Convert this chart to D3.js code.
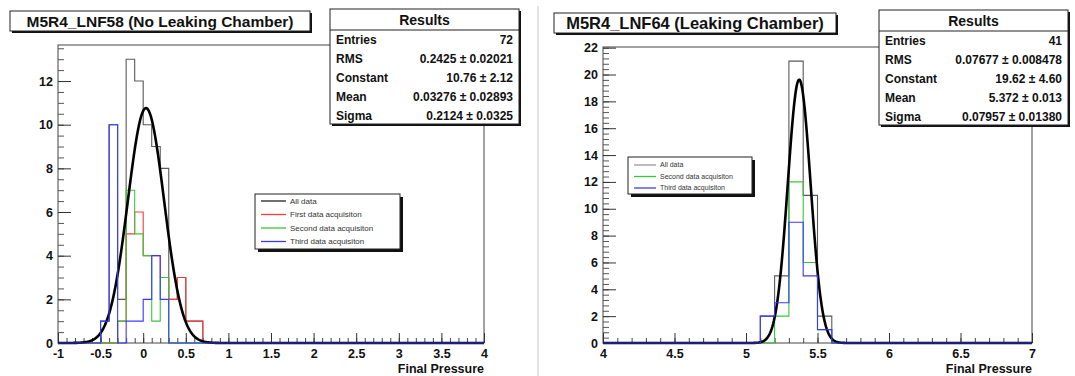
<!DOCTYPE html>
<html>
<head>
<meta charset="utf-8">
<script src="https://cdn.jsdelivr.net/npm/d3@7"></script>
<style>
    body { margin: 0; background: #fff; }
    text { font-family: "Liberation Sans", Arial, Helvetica, sans-serif; }
</style>
</head>
<body>
<div id="chart"></div>
<script>
// Histogram bin width (both pads)
var binWidth = 0.1;

// Left pad: M5R4_LNF58 (No Leaking Chamber) - lower edge of each filled bin
var leftBinLow = [-0.5, -0.4, -0.3, -0.2, -0.1, 0.0, 0.1, 0.2, 0.3, 0.4, 0.5, 0.6];
var leftAllData = [1, 10, 2, 13, 12, 10, 9, 8, 2, 3, 1, 1];
var leftFirst = [0, 0, 1, 5, 6, 4, 4, 3, 2, 3, 1, 1];
var leftSecond = [0, 0, 1, 7, 5, 4, 1, 3, 0, 0, 0, 0];
var leftThird = [1, 10, 0, 1, 1, 2, 4, 2, 0, 0, 0, 0];
var leftFit = [10.76, 0.03276, 0.2124]; // constant, mean, sigma
var leftStats = [
    ["Entries", "72"],
    ["RMS", "0.2425 \u00b1 0.02021"],
    ["Constant", "10.76 \u00b1 2.12"],
    ["Mean", "0.03276 \u00b1 0.02893"],
    ["Sigma", "0.2124 \u00b1 0.0325"]
];
var leftLegend = ["All data", "First data acquisiton", "Second data acquisiton", "Third data acquisiton"];

// Right pad: M5R4_LNF64 (Leaking Chamber)
var rightBinLow = [5.1, 5.2, 5.3, 5.4, 5.5];
var rightAllData = [2, 5, 21, 11, 2];
var rightSecond = [0, 2, 12, 6, 1];
var rightThird = [2, 3, 9, 5, 1];
var rightFit = [19.62, 5.372, 0.07957];
var rightStats = [
    ["Entries", "41"],
    ["RMS", "0.07677 \u00b1 0.008478"],
    ["Constant", "19.62 \u00b1 4.60"],
    ["Mean", "5.372 \u00b1 0.013"],
    ["Sigma", "0.07957 \u00b1 0.01380"]
];
var rightLegend = ["All data", "Second data acquisiton", "Third data acquisiton"];

// Tick labels
var leftXTicks = [-1, -0.5, 0, 0.5, 1, 1.5, 2, 2.5, 3, 3.5, 4];
var leftYTicks = [0, 2, 4, 6, 8, 10, 12];
var rightXTicks = [4, 4.5, 5, 5.5, 6, 6.5, 7];
var rightYTicks = [0, 2, 4, 6, 8, 10, 12, 14, 16, 18, 20, 22];

var colors = { all: "#5a5a5a", first: "#ff3b3b", second: "#37c837", third: "#3a3aff" };

var svg = d3.select("#chart").append("svg")
    .attr("width", 1075)
    .attr("height", 376)
    .style("display", "block");

svg.append("rect").attr("width", 1075).attr("height", 376).attr("fill", "#fff");

// Divider between the two canvases
svg.append("line")
    .attr("x1", 538).attr("x2", 538)
    .attr("y1", 6).attr("y2", 376)
    .style("stroke", "#c8c8c8")
    .style("stroke-width", 1);

function boxWithShadow(g, x0, y0, x1, y1, shadow) {
    g.append("rect")
        .attr("x", x0 + shadow).attr("y", y0 + shadow)
        .attr("width", x1 - x0).attr("height", y1 - y0)
        .attr("fill", "#111");
    g.append("rect")
        .attr("x", x0).attr("y", y0)
        .attr("width", x1 - x0).attr("height", y1 - y0)
        .attr("fill", "#fff")
        .style("stroke", "#222")
        .style("stroke-width", 1);
}

function drawPanel(p) {
    var g = svg.append("g");

    var x = d3.scaleLinear().domain(p.xDomain).range([p.left, p.right]);
    var y = d3.scaleLinear().domain([0, p.yMax]).range([p.bottom, p.top]);

    // Frame
    g.append("rect")
        .attr("x", p.left).attr("y", p.top)
        .attr("width", p.right - p.left).attr("height", p.bottom - p.top)
        .attr("fill", "none")
        .style("stroke", "#444")
        .style("stroke-width", 1);

    // Minor ticks
    var nx = Math.round((p.xDomain[1] - p.xDomain[0]) / 0.1);
    var xMinor = d3.range(nx + 1).map(function (i) { return p.xDomain[0] + i * 0.1; });
    var yMinor = d3.range(0, p.yMax, p.yMinorStep);

    g.append("g")
        .attr("transform", "translate(0," + p.bottom + ")")
        .call(d3.axisBottom(x).tickValues(xMinor).tickSize(-5).tickFormat(""))
        .attr("color", "#444")
        .call(function (a) { a.select(".domain").remove(); });

    g.append("g")
        .attr("transform", "translate(" + p.left + ",0)")
        .call(d3.axisLeft(y).tickValues(yMinor).tickSize(-6).tickFormat(""))
        .attr("color", "#555")
        .call(function (a) { a.select(".domain").remove(); });

    // Major ticks with labels
    var xAxis = g.append("g")
        .attr("transform", "translate(0," + p.bottom + ")")
        .call(d3.axisBottom(x).tickValues(p.xTicks).tickSize(-10).tickPadding(6)
            .tickFormat(function (d) { return String(+d.toFixed(1)); }))
        .attr("color", "#333")
        .attr("font-family", "Liberation Sans, Arial, sans-serif")
        .attr("font-size", 12.5)
        .attr("font-weight", "bold");
    xAxis.select(".domain").remove();
    xAxis.selectAll("text").attr("fill", "#111");

    var yAxis = g.append("g")
        .attr("transform", "translate(" + p.left + ",0)")
        .call(d3.axisLeft(y).tickValues(p.yTicks).tickSize(-13).tickPadding(5))
        .attr("color", "#333")
        .attr("font-family", "Liberation Sans, Arial, sans-serif")
        .attr("font-size", 12.5)
        .attr("font-weight", "bold");
    yAxis.select(".domain").remove();
    yAxis.selectAll("text").attr("fill", "#111");

    // Axis title
    g.append("text")
        .attr("x", p.right)
        .attr("y", 373)
        .attr("text-anchor", "end")
        .style("font-size", "12.5px")
        .style("font-weight", "bold")
        .attr("fill", "#111")
        .text("Final Pressure");

    // Histogram outline across the whole axis range
    var line = d3.line()
        .x(function (d) { return x(d[0]); })
        .y(function (d) { return y(d[1]); });

    function stepPoints(lows, counts) {
        var pts = [[p.xDomain[0], 0]];
        for (var k = 0; k < nx; k++) {
            var e = p.xDomain[0] + k * binWidth;
            var idx = lows.findIndex(function (l) { return Math.abs(l - e) < 1e-6; });
            var c = idx >= 0 ? counts[idx] : 0;
            pts.push([e, c]);
            pts.push([e + binWidth, c]);
        }
        pts.push([p.xDomain[1], 0]);
        return pts;
    }

    p.series.forEach(function (s) {
        if (s.afterFit) return;
        g.append("path")
            .datum(stepPoints(p.binLow, s.values))
            .attr("d", line)
            .attr("fill", "none")
            .style("stroke", s.color)
            .style("stroke-width", 1.1);
    });

    // Gaussian fit
    var fitX = d3.range(0, 601).map(function (i) {
        return p.xDomain[0] + i * (p.xDomain[1] - p.xDomain[0]) / 600;
    });
    g.append("path")
        .datum(fitX.map(function (v) {
            var z = (v - p.fit[1]) / p.fit[2];
            return [v, p.fit[0] * Math.exp(-0.5 * z * z)];
        }))
        .attr("d", line)
        .attr("fill", "none")
        .style("stroke", "#000")
        .style("stroke-width", 2.6)
        .style("stroke-linejoin", "round");

    p.series.forEach(function (s) {
        if (!s.afterFit) return;
        g.append("path")
            .datum(stepPoints(p.binLow, s.values))
            .attr("d", line)
            .attr("fill", "none")
            .style("stroke", s.color)
            .style("stroke-width", 1.1);
    });

    // Legend
    var lg = g.append("g");
    boxWithShadow(lg, p.legendBox[0], p.legendBox[1], p.legendBox[2], p.legendBox[3], 3);
    var entries = lg.selectAll(".entry")
        .data(p.legend)
        .enter().append("g")
        .attr("transform", function (d, i) {
            return "translate(" + p.legendBox[0] + "," + (p.legendBox[1] + p.legendRow0 + i * p.legendRowH) + ")";
        });
    entries.append("line")
        .attr("x1", 6).attr("x2", 6 + p.legendLine)
        .attr("y1", 0).attr("y2", 0)
        .style("stroke", function (d, i) { return p.legendColors[i]; })
        .style("stroke-width", 1.3);
    entries.append("text")
        .attr("x", 10 + p.legendLine)
        .attr("dy", "0.35em")
        .style("font-size", p.legendFont + "px")
        .attr("fill", "#333")
        .text(function (d) { return d; });

    // Title box
    var tg = g.append("g");
    boxWithShadow(tg, p.titleBox[0], p.titleBox[1], p.titleBox[2], p.titleBox[3], 2);
    tg.append("text")
        .attr("x", (p.titleBox[0] + p.titleBox[2]) / 2)
        .attr("y", (p.titleBox[1] + p.titleBox[3]) / 2)
        .attr("dy", "0.36em")
        .attr("text-anchor", "middle")
        .style("font-size", p.titleFont + "px")
        .style("font-weight", "bold")
        .attr("fill", "#111")
        .text(p.title);

    // Statistics box
    var sb = p.statsBox;
    var sg = g.append("g");
    boxWithShadow(sg, sb[0], sb[1], sb[2], sb[3], 2);
    sg.append("line")
        .attr("x1", sb[0]).attr("x2", sb[2])
        .attr("y1", sb[1] + 21).attr("y2", sb[1] + 21)
        .style("stroke", "#222");
    sg.append("text")
        .attr("x", (sb[0] + sb[2]) / 2)
        .attr("y", sb[1] + 11)
        .attr("dy", "0.36em")
        .attr("text-anchor", "middle")
        .style("font-size", "14px")
        .style("font-weight", "bold")
        .attr("fill", "#111")
        .text("Results");
    var rows = sg.selectAll(".row")
        .data(p.stats)
        .enter().append("g")
        .attr("transform", function (d, i) { return "translate(0," + (sb[1] + 30.5 + i * 19) + ")"; });
    rows.append("text")
        .attr("x", sb[0] + 6)
        .attr("dy", "0.36em")
        .style("font-size", "12px")
        .style("font-weight", "bold")
        .attr("fill", "#111")
        .text(function (d) { return d[0]; });
    rows.append("text")
        .attr("x", sb[2] - 6)
        .attr("dy", "0.36em")
        .attr("text-anchor", "end")
        .style("font-size", "12px")
        .style("font-weight", "bold")
        .attr("fill", "#111")
        .text(function (d) { return d[1]; });
}

drawPanel({
    left: 58, right: 484, top: 45, bottom: 343,
    xDomain: [-1, 4], yMax: 13.65, yMinorStep: 0.5,
    xTicks: leftXTicks, yTicks: leftYTicks,
    binLow: leftBinLow,
    series: [
        { values: leftAllData, color: colors.all },
        { values: leftFirst, color: colors.first },
        { values: leftSecond, color: colors.second },
        { values: leftThird, color: colors.third, afterFit: true }
    ],
    fit: leftFit,
    title: "M5R4_LNF58 (No Leaking Chamber)",
    titleBox: [10, 11, 310, 31], titleFont: 15.5,
    statsBox: [330, 9, 519, 124],
    stats: leftStats,
    legend: leftLegend,
    legendColors: ["#222", colors.first, colors.second, colors.third],
    legendBox: [255, 194, 400, 249], legendRow0: 7, legendRowH: 13.5, legendLine: 25, legendFont: 8
});

drawPanel({
    left: 603, right: 1032, top: 47, bottom: 343,
    xDomain: [4, 7], yMax: 22.05, yMinorStep: 0.4,
    xTicks: rightXTicks, yTicks: rightYTicks,
    binLow: rightBinLow,
    series: [
        { values: rightAllData, color: colors.all },
        { values: rightSecond, color: colors.second },
        { values: rightThird, color: colors.third, afterFit: true }
    ],
    fit: rightFit,
    title: "M5R4_LNF64 (Leaking Chamber)",
    titleBox: [554, 13, 836, 33], titleFont: 16.5,
    statsBox: [879, 10, 1068, 125],
    stats: rightStats,
    legend: rightLegend,
    legendColors: ["#999", colors.second, colors.third],
    legendBox: [628, 157, 752, 194], legendRow0: 8, legendRowH: 11.5, legendLine: 22, legendFont: 7
});
</script>
</body>
</html>
